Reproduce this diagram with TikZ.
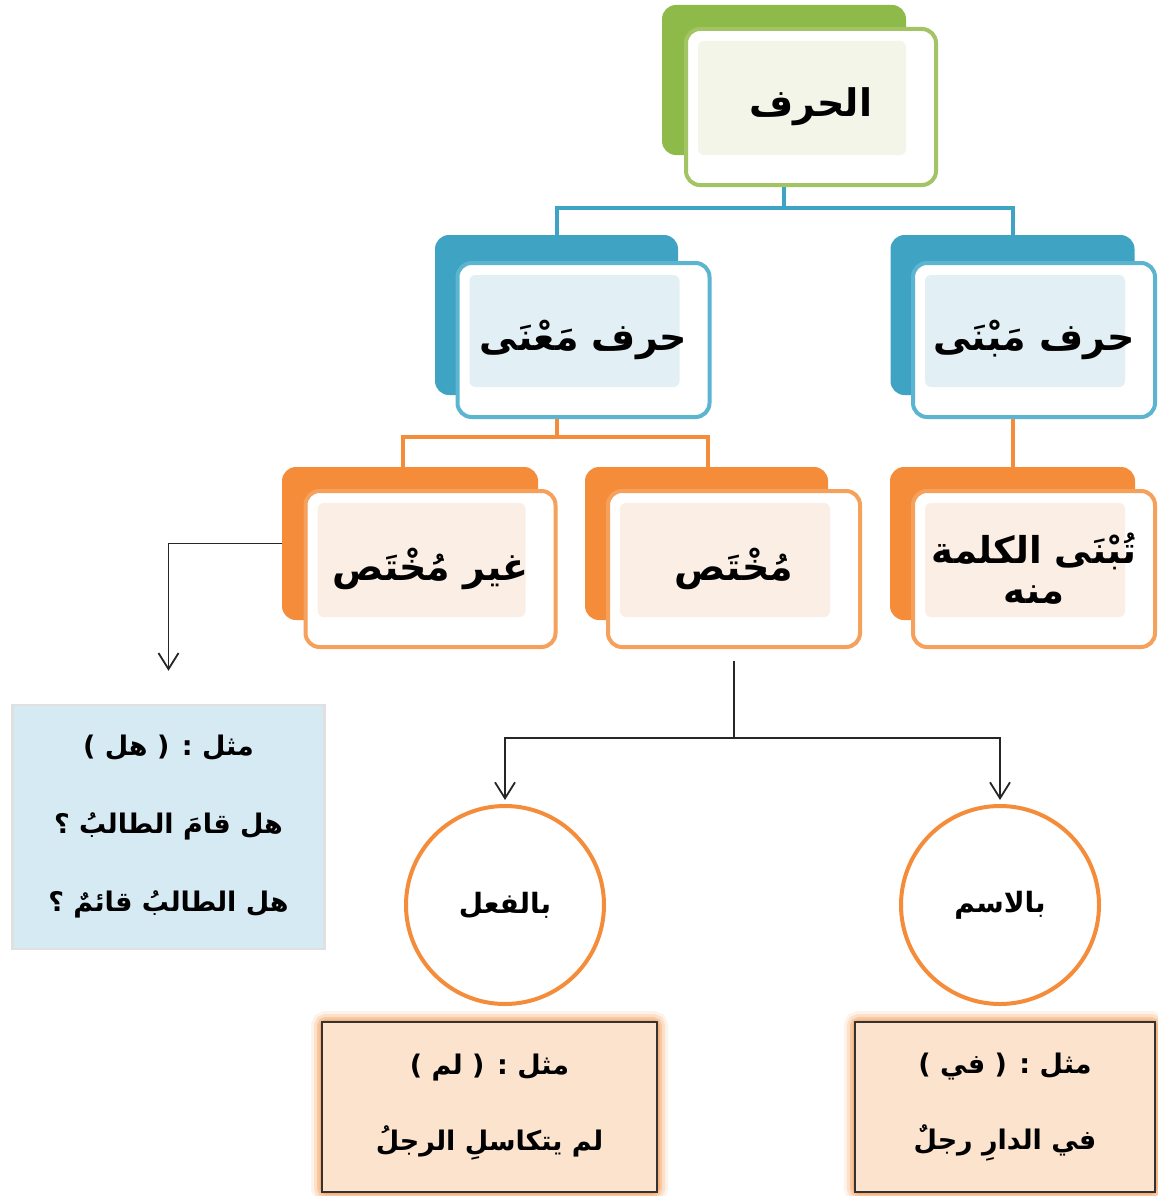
\documentclass[tikz,border=0pt]{standalone}
\usepackage{fontspec}
\usetikzlibrary{arrows.meta,backgrounds}
\TeXXeTstate=1
\newfontfamily\arabicfont[Script=Arabic]{DejaVu Sans}
\newcommand{\arR}[1]{\beginR #1\endR}
\definecolor{grnB}{HTML}{8DBA48}
\definecolor{grnF}{HTML}{A2C465}
\definecolor{grnL}{HTML}{F2F5E8}
\definecolor{bluB}{HTML}{3FA3C4}
\definecolor{bluF}{HTML}{5BB5D1}
\definecolor{bluL}{HTML}{E2F0F6}
\definecolor{orgB}{HTML}{F48C3A}
\definecolor{orgF}{HTML}{F5A15C}
\definecolor{orgL}{HTML}{FBEEE4}
\definecolor{exBlue}{HTML}{D6EAF3}
\definecolor{exPeach}{HTML}{FBE3CE}
\tikzset{
  backbox/.style={rounded corners=14pt, fill=#1, draw=none, inner sep=0pt},
  frontbox/.style 2 args={rounded corners=14pt, draw=#1, line width=4pt, fill=white, inner sep=0pt,
    path picture={\fill[#2, rounded corners=6pt]
      ([shift={(12pt,-12pt)}]path picture bounding box.north west) rectangle
      ([shift={(-30pt,30pt)}]path picture bounding box.south east);}},
  bigtxt/.style={font=\arabicfont\bfseries\fontsize{38}{46}\selectfont, text=black},
  midtxt/.style={font=\arabicfont\bfseries\fontsize{37}{42}\selectfont, text=black, align=center},
  smalltxt/.style={font=\arabicfont\bfseries\fontsize{28}{32}\selectfont, text=black, align=center},
  extxt/.style={font=\arabicfont\bfseries\fontsize{27}{34}\selectfont, text=black, align=center},
  blueline/.style={draw=bluB, line width=4pt},
  orgline/.style={draw=orgB, line width=4pt},
  blkarrow/.style={draw=black!85, line width=1.8pt, -{Straight Barb[length=16pt,width=20pt,line width=1.8pt]}},
  blkline/.style={draw=black!85, line width=1.8pt},
  circ/.style={circle, draw=orgB, line width=4pt, minimum size=198pt, inner sep=0pt},
  exbluebox/.style={fill=exBlue, draw=black!12, line width=2.5pt, inner sep=0pt},
  expeachbox/.style={fill=exPeach, draw=black!80, line width=1.5pt, inner sep=0pt},
}
\begin{document}
\begin{tikzpicture}[x=1pt,y=-1pt]
\useasboundingbox (0,0) rectangle (1158,1196);
\begin{scope}[on background layer]
\fill[white] (0,0) rectangle (1158,1196);
\end{scope}

% level 1
\node[backbox=grnB, minimum width=244pt, minimum height=150pt] (rootB) at (784,80) {};
\node[frontbox={grnF}{grnL}, bigtxt, minimum width=250pt, minimum height=156pt] (root) at (811,107) {\arR{الحرف}};

% level 2
\node[backbox=bluB, minimum width=244pt, minimum height=160pt] (mabnaB) at (1012.5,315) {};
\node[frontbox={bluF}{bluL}, bigtxt, minimum width=242pt, minimum height=154pt] (mabna) at (1034,340) {\arR{حرف مَبْنَى}};

\node[backbox=bluB, minimum width=243pt, minimum height=160pt] (maanaB) at (556.5,315) {};
\node[frontbox={bluF}{bluL}, bigtxt, minimum width=252pt, minimum height=154pt] (maana) at (583.5,340) {\arR{حرف مَعْنَى}};

% level 3
\node[backbox=orgB, minimum width=256pt, minimum height=153pt] (ghairB) at (410,543.5) {};
\node[frontbox={orgF}{orgL}, bigtxt, minimum width=250pt, minimum height=156pt] (ghair) at (430.5,569) {\arR{غير مُخْتَص}};

\node[backbox=orgB, minimum width=243pt, minimum height=153pt] (mukhB) at (706.5,543.5) {};
\node[frontbox={orgF}{orgL}, bigtxt, minimum width=252pt, minimum height=156pt] (mukh) at (734,569) {\arR{مُخْتَص}};

\node[backbox=orgB, minimum width=245pt, minimum height=153pt] (tabnaB) at (1012.5,543.5) {};
\node[frontbox={orgF}{orgL}, midtxt, minimum width=242pt, minimum height=156pt] (tabna) at (1034,569) {\arR{تُبْنَى الكلمة}\\[-2pt]\arR{منه}};

% example box (blue)
\node[exbluebox, extxt, minimum width=312pt, minimum height=244pt] (exHal) at (168.5,827)
  {\arR{مثل : ( هل )}\\[44pt]\arR{هل قامَ الطالبُ ؟}\\[44pt]\arR{هل الطالبُ قائمٌ ؟}};

% circles
\node[circ, smalltxt] (fiil) at (505,905) {\arR{بالفعل}};
\node[circ, smalltxt] (ism) at (1000,905) {\arR{بالاسم}};

% bottom example boxes (glow)
\begin{scope}[on background layer]
\foreach \w/\o in {22/0.10,16/0.18,10/0.28,5/0.4}{
  \draw[orgB, opacity=\o, line width=\w pt, rounded corners=4pt] (322,1022) rectangle (657,1192);
  \draw[orgB, opacity=\o, line width=\w pt, rounded corners=4pt] (855,1022) rectangle (1155,1192);
}
\end{scope}
\node[expeachbox, extxt, minimum width=335pt, minimum height=170pt] (exLam) at (489.5,1107)
  {\arR{مثل : ( لم )}\\[42pt]\arR{لم يتكاسلِ الرجلُ}};
\node[expeachbox, extxt, minimum width=300pt, minimum height=170pt] (exFi) at (1005,1107)
  {\arR{مثل : ( في )}\\[42pt]\arR{في الدارِ رجلٌ}};

% connectors
\coordinate (j1) at (784,208);
\coordinate (j2) at (556.5,437);
\coordinate (j3) at (734,738);
\begin{scope}[on background layer]
\draw[blueline] (rootB.south) -- (j1);
\draw[blueline] (j1) -| (mabnaB.north);
\draw[blueline] (j1) -| (maanaB.north);
\draw[orgline] (maanaB.south) -- (j2);
\draw[orgline] (j2) -| ([xshift=-7pt]ghairB.north);
\draw[orgline] (j2) -| ([xshift=1.5pt]mukhB.north);
\draw[orgline] (mabnaB.south) -- (tabnaB.north);
\end{scope}
\draw[blkarrow] (ghairB.west) -| ([yshift=33pt]exHal.north);
\draw[blkline] ([yshift=-12pt]mukh.south) -- (j3);
\draw[blkarrow] (j3) -| ([yshift=4pt]fiil.north);
\draw[blkarrow] (j3) -| ([yshift=4pt]ism.north);
\end{tikzpicture}
\end{document}
